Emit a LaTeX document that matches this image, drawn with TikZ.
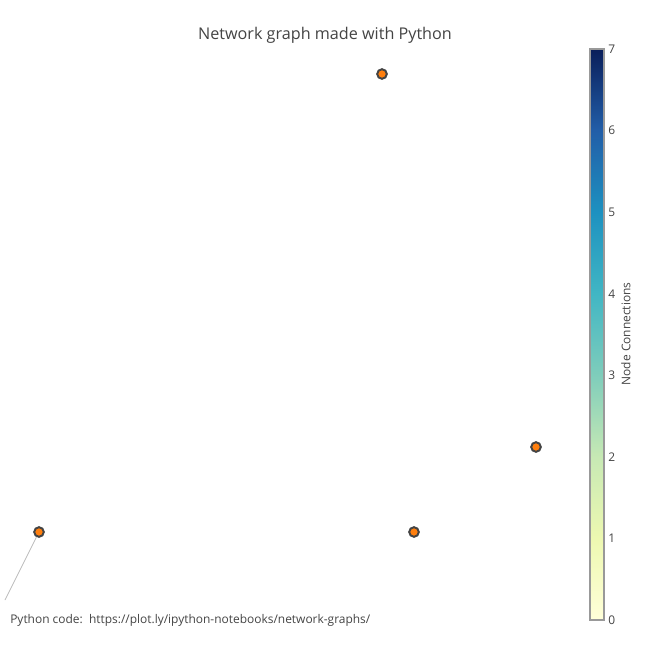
\documentclass[tikz,border=0pt]{standalone}
\usepackage{fontspec}
\setmainfont{Open Sans}
\usepackage{tikz}
\usetikzlibrary{positioning, calc}
\definecolor{txtgrey}{HTML}{444444}
\definecolor{nodeorange}{HTML}{FF7F0E}
\definecolor{edgegrey}{HTML}{BBBBBB}
\definecolor{barborder}{HTML}{999999}
\definecolor{ylgnbuA}{RGB}{255,255,217}
\definecolor{ylgnbuB}{RGB}{237,248,177}
\definecolor{ylgnbuC}{RGB}{199,233,180}
\definecolor{ylgnbuD}{RGB}{127,205,187}
\definecolor{ylgnbuE}{RGB}{65,182,196}
\definecolor{ylgnbuF}{RGB}{29,145,192}
\definecolor{ylgnbuG}{RGB}{34,94,168}
\definecolor{ylgnbuH}{RGB}{10,30,90}
% stops between 25bp and 75bp: the part pgf stretches over the path
\pgfdeclareverticalshading{ylgnbu}{100bp}{
  color(0bp)=(ylgnbuA); color(25bp)=(ylgnbuA); color(32.14bp)=(ylgnbuB);
  color(39.29bp)=(ylgnbuC); color(46.43bp)=(ylgnbuD); color(53.57bp)=(ylgnbuE);
  color(60.71bp)=(ylgnbuF); color(67.86bp)=(ylgnbuG); color(75bp)=(ylgnbuH);
  color(100bp)=(ylgnbuH)}

\begin{document}
\begin{tikzpicture}[
  x=0.025cm, y=-0.025cm,
  every node/.style={font=\fontsize{8.5}{10}\selectfont, text=txtgrey},
  netnode/.style={circle, draw=txtgrey, fill=nodeorange, line width=1.4pt,
                  minimum size=0.24cm, inner sep=0pt},
  edgeline/.style={draw=edgegrey, line width=0.5pt},
  ticklabel/.style={anchor=west, inner sep=0pt},
]
  \useasboundingbox[fill=white] (0,0) rectangle (650,650);

  \node[font=\fontsize{11.5}{14}\selectfont] (title) at (325,35) {Network graph made with Python};

  % edge leaving the plot area
  \coordinate (edgeend) at (5,600);
  \node[netnode] (n1) at (39,532) {};
  \draw[edgeline] (n1) -- (edgeend);
  \node[netnode] (n2) at (382,74) {};
  \node[netnode] (n3) at (536,447) {};
  \node[netnode] (n4) at (414,532) {};

  \node[anchor=west, inner sep=0pt] (src) at (10,620)
    {Python code:\ \ https://plot.ly/ipython-notebooks/network-graphs/};

  % colour bar
  \shade[shading=ylgnbu] (590,49) rectangle (604,620);
  \draw[barborder, line width=0.8pt] (590,49) rectangle (604,620);
  \foreach \v in {0,...,7}
    \node[ticklabel] (tick\v) at (608, 620-81.57*\v) {\v};
  \node[rotate=90, font=\fontsize{8.5}{10}\selectfont] (bartitle) at (626,334) {Node Connections};
\end{tikzpicture}
\end{document}
